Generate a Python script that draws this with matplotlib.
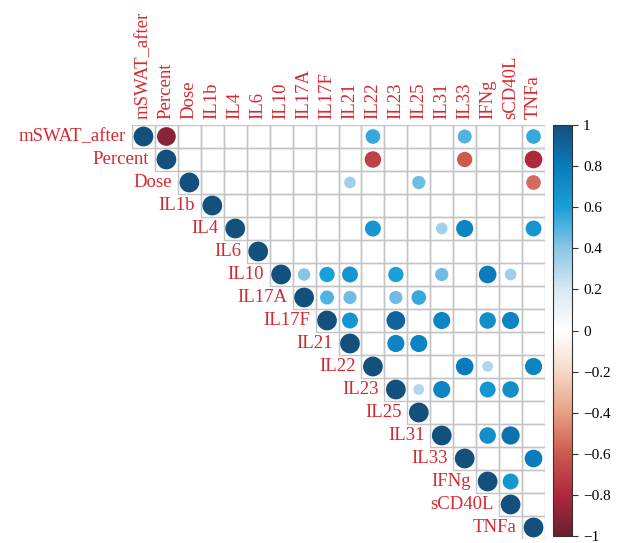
import numpy as np
import matplotlib
matplotlib.use('Agg')
import matplotlib.pyplot as plt
from matplotlib.patches import Circle, Rectangle
from matplotlib.colors import LinearSegmentedColormap

labels = ['mSWAT_after', 'Percent', 'Dose', 'IL1b', 'IL4', 'IL6', 'IL10', 'IL17A',
          'IL17F', 'IL21', 'IL22', 'IL23', 'IL25', 'IL31', 'IL33', 'IFNg', 'sCD40L', 'TNFa']

# significant correlations (upper triangle), row -> {column: r}
corr_rows = {
    'mSWAT_after': {'mSWAT_after': 1.0, 'Percent': -0.9, 'IL22': 0.55, 'IL33': 0.5, 'TNFa': 0.55},
    'Percent': {'Percent': 1.0, 'IL22': -0.7, 'IL33': -0.6, 'TNFa': -0.8},
    'Dose': {'Dose': 1.0, 'IL21': 0.35, 'IL25': 0.45, 'TNFa': -0.55},
    'IL1b': {'IL1b': 1.0},
    'IL4': {'IL4': 1.0, 'IL22': 0.65, 'IL31': 0.35, 'IL33': 0.75, 'TNFa': 0.65},
    'IL6': {'IL6': 1.0},
    'IL10': {'IL10': 1.0, 'IL17A': 0.4, 'IL17F': 0.6, 'IL21': 0.65, 'IL23': 0.6,
             'IL31': 0.45, 'IFNg': 0.8, 'sCD40L': 0.35},
    'IL17A': {'IL17A': 1.0, 'IL17F': 0.5, 'IL21': 0.45, 'IL23': 0.45, 'IL25': 0.55},
    'IL17F': {'IL17F': 1.0, 'IL21': 0.65, 'IL23': 0.9, 'IL31': 0.75, 'IFNg': 0.7, 'sCD40L': 0.75},
    'IL21': {'IL21': 1.0, 'IL23': 0.75, 'IL25': 0.75},
    'IL22': {'IL22': 1.0, 'IL33': 0.8, 'IFNg': 0.3, 'TNFa': 0.75},
    'IL23': {'IL23': 1.0, 'IL25': 0.3, 'IL31': 0.75, 'IFNg': 0.65, 'sCD40L': 0.7},
    'IL25': {'IL25': 1.0},
    'IL31': {'IL31': 1.0, 'IFNg': 0.7, 'sCD40L': 0.85},
    'IL33': {'IL33': 1.0, 'TNFa': 0.8},
    'IFNg': {'IFNg': 1.0, 'sCD40L': 0.65},
    'sCD40L': {'sCD40L': 1.0},
    'TNFa': {'TNFa': 1.0},
}

cb_ticks = [1, 0.8, 0.6, 0.4, 0.2, 0, -0.2, -0.4, -0.6, -0.8, -1]

cmap = LinearSegmentedColormap.from_list('corr', [
    (0.0, '#6b1f30'), (0.1, '#b0283d'), (0.2, '#cc5a50'), (0.3, '#e8a084'),
    (0.4, '#f6d8c8'), (0.5, '#ffffff'), (0.6, '#d8e8f3'), (0.7, '#8cc6e8'),
    (0.8, '#1aa0d8'), (0.9, '#0a7cbd'), (1.0, '#13507c')])

plt.rcParams['font.family'] = ['Liberation Serif', 'DejaVu Serif']
red = '#d42a2f'
n = len(labels)

fig = plt.figure(figsize=(6.2, 5.43), dpi=100)
ax = fig.add_axes([132/620, 4/543, 413/620, 414/543])
ax.set_xlim(-0.5, n - 0.5)
ax.set_ylim(n - 0.5, -0.5)
ax.axis('off')

for i, name in enumerate(labels):
    for j in range(i, n):
        ax.add_patch(Rectangle((j - 0.5, i - 0.5), 1, 1, fill=False,
                               edgecolor='#c4c4c6', lw=1.0, zorder=1))
    for col, r in corr_rows[name].items():
        j = labels.index(col)
        ax.add_patch(Circle((j, i), 0.43 * np.sqrt(abs(r)),
                            facecolor=cmap((r + 1) / 2), edgecolor='none', zorder=2))
    ax.text(i - 0.75, i, name, ha='right', va='center', color=red, fontsize=13.5)
    ax.text(i, -0.75, name, ha='center', va='bottom', rotation=90, color=red, fontsize=13.5)

cax = fig.add_axes([553/620, 7/543, 19/620, 411/543])
sm = plt.cm.ScalarMappable(cmap=cmap, norm=plt.Normalize(-1, 1))
cb = fig.colorbar(sm, cax=cax, ticks=cb_ticks)
cb.ax.set_yticklabels(['1' if t == 1 else '0' if t == 0 else ('\u2212' if t < 0 else '') +
                       ('1' if abs(t) == 1 else '%.1f' % abs(t)) for t in cb_ticks])
cb.ax.tick_params(labelsize=11, length=4, width=0.8, pad=4, colors='#333333', labelcolor='black')
cb.outline.set_edgecolor('#333333')
cb.outline.set_linewidth(0.8)

fig.savefig('out.png', dpi=100)
